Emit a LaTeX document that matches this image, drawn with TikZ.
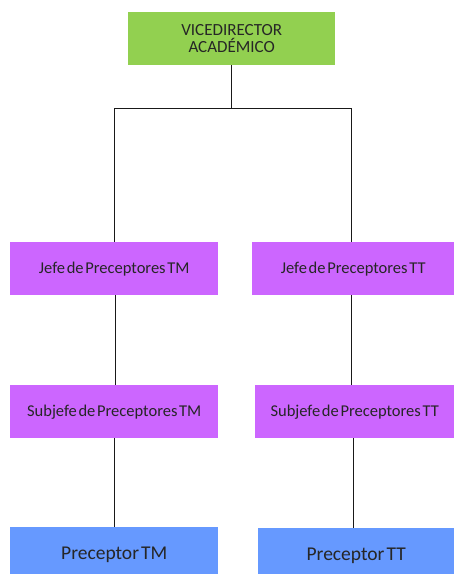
\documentclass[tikz,border=0pt]{standalone}
\usepackage{fontspec}
\setmainfont{Carlito}[WordSpace=0.45]
\begin{document}
\begin{tikzpicture}[x=1pt,y=-1pt,
  box/.style={rectangle, inner sep=0pt, anchor=north west, text=black!85, align=center},
  midbox/.style={box, fill=purpbox, font=\fontsize{16.5}{18}\selectfont},
  botbox/.style={box, fill=bluebox, font=\fontsize{19.5}{22}\selectfont},
  conn/.style={line width=1pt, black!90}]
\definecolor{greenbox}{HTML}{92D050}
\definecolor{purpbox}{HTML}{CC66FF}
\definecolor{bluebox}{HTML}{6699FF}
\useasboundingbox (0,0) rectangle (454,574);
\node[box, fill=greenbox, font=\fontsize{17}{17.5}\selectfont, minimum width=207pt, minimum height=53pt] (vd) at (128,12) {VICEDIRECTOR\\ACADÉMICO};
\node[midbox, minimum width=208pt, minimum height=53pt] (j1) at (10,242) {Jefe de Preceptores TM};
\node[midbox, minimum width=202pt, minimum height=53pt] (j2) at (252,242) {Jefe de Preceptores TT};
\node[midbox, minimum width=208pt, minimum height=53pt] (s1) at (10,385) {Subjefe de Preceptores TM};
\node[midbox, minimum width=199pt, minimum height=53pt] (s2) at (255,385) {Subjefe de Preceptores TT};
\node[botbox, minimum width=208pt, minimum height=56pt] (p1) at (10,527) {Preceptor TM};
\node[botbox, minimum width=196pt, minimum height=55pt] (p2) at (258,528) {Preceptor TT};
\coordinate (busL) at (114,108);
\coordinate (busR) at (351,108);
\draw[conn] (vd.south) -- (vd.south |- busL);
\draw[conn] (busL) -- (busR);
\draw[conn] (busL) -- (busL |- j1.north);
\draw[conn] (busR) -- (busR |- j2.north);
\draw[conn] ([xshift=1pt]j1.south) -- ([xshift=1pt]j1.south |- s1.north);
\draw[conn] ([xshift=-2pt]j2.south) -- ([xshift=-2pt]j2.south |- s2.north);
\draw[conn] (s1.south) -- (s1.south |- p1.north);
\draw[conn] ([xshift=-1pt]s2.south) -- ([xshift=-1pt]s2.south |- p2.north);
\end{tikzpicture}
\end{document}
